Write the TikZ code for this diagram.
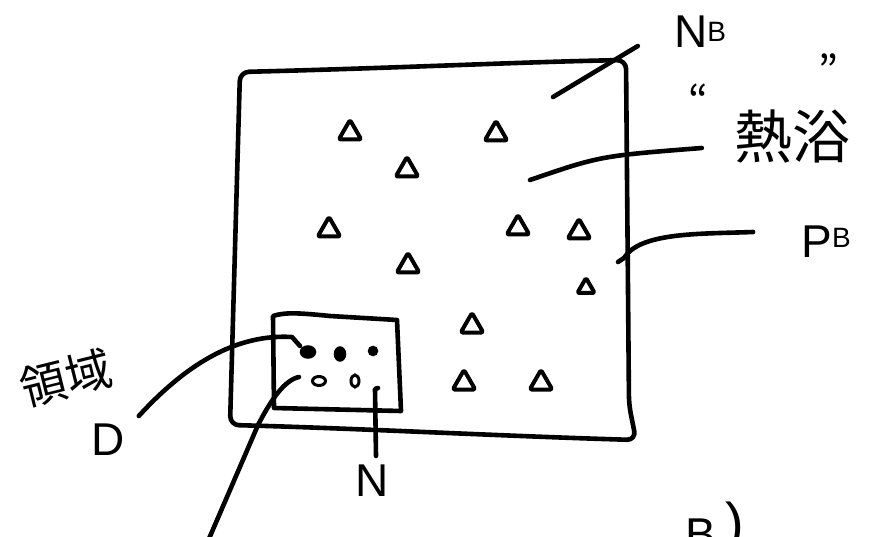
\documentclass[tikz,border=0pt]{standalone}
\usepackage{fontspec}
\setmainfont{Liberation Sans}
\newfontfamily\cjk{Noto Sans CJK JP}
\usetikzlibrary{shapes.geometric,calc}
\tikzset{
  sk/.style={line width=4.6pt, line cap=round, line join=round, black},
  tri/.style={draw, line width=4pt, regular polygon, regular polygon sides=3, minimum size=26pt, inner sep=0pt, rounded corners=1.5pt, line join=round},
  dotf/.style={ellipse, fill=black, draw=black, line width=1.5pt, inner sep=0pt},
  doto/.style={ellipse, draw=black, line width=3pt, inner sep=0pt},
  lbl/.style={inner sep=0pt, font=\fontsize{46}{50}\selectfont},
  cjklbl/.style={inner sep=0pt, font=\cjk\fontsize{58}{60}\selectfont},
}
\begin{document}
\begin{tikzpicture}[x=1pt,y=-1pt]
\useasboundingbox (0,0) rectangle (870,537);
\clip (0,0) rectangle (870,537);
% big square (system)
\draw[sk, rounded corners=9pt] (240,72) .. controls (400,68) and (520,62) .. (626,60) -- (629,405) -- (636,440) .. controls (500,436) and (350,428) .. (230,425) -- cycle;
% small box (region D)
\draw[sk] (273,316) .. controls (285,312) and (300,313) .. (330,316) -- (397,320) -- (401,411) -- (274,408) -- cycle;
% particles in D
\node[dotf, minimum width=15pt, minimum height=12pt] (d1) at (308,352) {};
\node[dotf, minimum width=11pt, minimum height=14pt] (d2) at (340,354) {};
\node[dotf, minimum width=9pt, minimum height=9pt] (d3) at (373,351) {};
\node[doto, minimum width=13pt, minimum height=9pt] (d4) at (319,381) {};
\node[doto, minimum width=8pt, minimum height=12pt] (d5) at (355,381) {};
% particles in the bath
\node[tri] (t1) at (350,133) {};
\node[tri] (t2) at (496,134) {};
\node[tri] (t3) at (407,170) {};
\node[tri] (t4) at (329,230) {};
\node[tri] (t5) at (518,228) {};
\node[tri] (t6) at (579,232) {};
\node[tri] (t7) at (408,266) {};
\node[tri, minimum size=20pt] (t8) at (586,288) {};
\node[tri] (t9) at (472,326) {};
\node[tri] (t10) at (464,383) {};
\node[tri] (t11) at (541,383) {};
% labels
\node[lbl] (NB) at (700,32) {N\raisebox{6pt}{\fontsize{28}{30}\selectfont B}};
\node[cjklbl] (heat) at (792,136) {熱浴};
\node[cjklbl, font=\cjk\fontsize{42}{42}\selectfont] (qo) at (698,100) {“};
\node[cjklbl, font=\cjk\fontsize{42}{42}\selectfont] (qc) at (828,70) {”};
\node[lbl] (PB) at (826,242) {P\raisebox{10pt}{\fontsize{28}{30}\selectfont B}};
\node[cjklbl, font=\cjk\fontsize{46}{48}\selectfont, rotate=14] (ryo) at (66,378) {領域};
\node[lbl] (D) at (108,440) {D};
\node[lbl] (N) at (372,481) {N};
\node[lbl, anchor=base west] (bp) at (685,550) {B\hspace{10pt}\raisebox{8pt}{\fontsize{56}{56}\selectfont )}};
% connector end points inside the picture
\coordinate (nbEnd) at (553,97);
\coordinate (heatEnd) at (530,180);
\coordinate (pbEnd) at (618,262);
\coordinate (dEnd) at (300,346);
\coordinate (boxEnd) at (299,377);
\coordinate (nEnd) at (378,388);
\coordinate (offBottom) at (205,548);
% connectors
\draw[sk] (nbEnd) -- ($(NB.west)+(-36,14)$);
\draw[sk] (heatEnd) .. controls (600,156) .. ($(heat.west)+(-32,12)$);
\draw[sk] (pbEnd) -- (624,258) .. controls (640,232) and (700,234) .. ($(PB.west)+(-48,-10)$);
\draw[sk] ($(D.north east)+(14,-8)$) .. controls (190,360) and (240,334) .. (292,337) -- (dEnd);
\draw[sk] (offBottom) -- (258,425) .. controls (272,398) and (285,380) .. (boxEnd);
\draw[sk] (nEnd) -- (375,389) -- ($(N.north)+(4,-9)$);
\end{tikzpicture}
\end{document}
